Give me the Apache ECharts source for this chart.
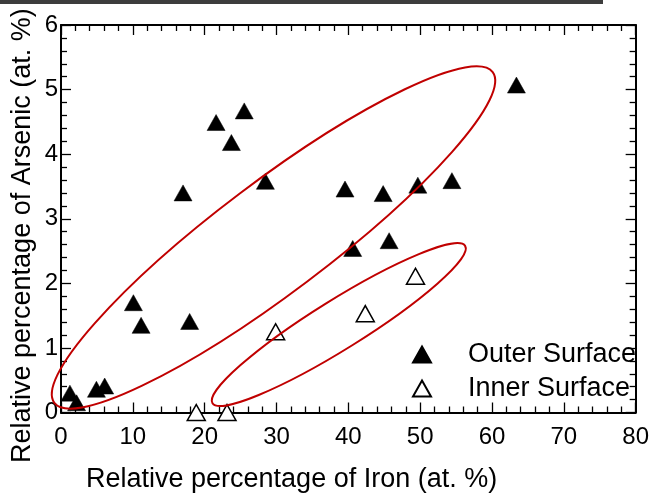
<!DOCTYPE html>
<html>
<head>
<meta charset="utf-8">
<script src="https://cdn.jsdelivr.net/npm/echarts@6/dist/echarts.min.js"></script>
<style>
  html, body { margin: 0; padding: 0; background: #fff; }
  #chart { width: 652px; height: 499px; }
</style>
</head>
<body>
<div id="chart"></div>
<script>
// Outer surface measurements: iron vs arsenic (at. %)
const outerFe = [1.24, 2.17, 4.93, 6.08, 10.08, 11.15, 16.99, 17.91, 21.59, 23.72, 25.51, 28.45, 39.54, 40.61, 44.85, 45.68, 49.68, 54.42, 63.4];
const outerAs = [0.30, 0.15, 0.36, 0.41, 1.70, 1.35, 3.40, 1.41, 4.49, 4.18, 4.67, 3.58, 3.46, 2.54, 3.39, 2.66, 3.52, 3.59, 5.07];

// Inner surface measurements
const innerFe = [18.83, 23.11, 29.88, 42.36, 49.35];
const innerAs = [0.0, 0.0, 1.25, 1.53, 2.11];

// Axis ranges
const xRange = [0, 80];
const yRange = [0, 6];

// Grouping ellipses: ends of the long axis (Fe, As) and short/long axis ratio
const ellipseStartFe = [-0.93, 21.09];
const ellipseStartAs = [0.15, 0.144];
const ellipseEndFe = [60.1, 56.26];
const ellipseEndAs = [5.27, 2.58];
const ellipseRatio = [0.202, 0.166];

const FONT = "'Liberation Sans', Arial, sans-serif";

const outerData = outerFe.map((v, i) => [v, outerAs[i]]);
const innerData = innerFe.map((v, i) => [v, innerAs[i]]);
const ellipseData = ellipseStartFe.map((v, i) => [v, ellipseStartAs[i], ellipseEndFe[i], ellipseEndAs[i], ellipseRatio[i]]);

function axisBase(extra) {
  return Object.assign({
    axisLine: { show: true, onZero: false, lineStyle: { color: '#000', width: 2 } },
    axisTick: { show: true, inside: true, length: 10, lineStyle: { color: '#000', width: 1.3 } },
    minorTick: { show: true, splitNumber: 5, length: 6, lineStyle: { color: '#000', width: 1.3 } },
    splitLine: { show: false },
    minorSplitLine: { show: false }
  }, extra);
}

const chart = echarts.init(document.getElementById('chart'), null, { renderer: 'canvas' });

chart.setOption({
  animation: false,
  backgroundColor: '#fff',
  textStyle: { fontFamily: FONT },
  grid: { left: 61, top: 25, width: 579, height: 387.5, containLabel: false },
  xAxis: [
    axisBase({
      type: 'value', position: 'bottom', min: xRange[0], max: xRange[1], interval: 10,
      axisLabel: { show: true, color: '#000', fontSize: 24, fontFamily: FONT, margin: 13 }
    }),
    axisBase({
      type: 'value', position: 'top', min: xRange[0], max: xRange[1], interval: 10,
      axisLabel: { show: false }
    })
  ],
  yAxis: [
    axisBase({
      type: 'value', position: 'left', min: yRange[0], max: yRange[1], interval: 1,
      axisLabel: { show: true, color: '#000', fontSize: 24, fontFamily: FONT, margin: 3 }
    }),
    axisBase({
      type: 'value', position: 'right', min: yRange[0], max: yRange[1], interval: 1,
      axisLabel: { show: false }
    })
  ],
  legend: {
    orient: 'vertical',
    left: 407,
    top: 336,
    itemWidth: 18,
    itemHeight: 16,
    itemGap: 7,
    selectedMode: false,
    data: ['Outer Surface', 'Inner Surface'],
    textStyle: { color: '#000', fontSize: 27, fontFamily: FONT, padding: [0, 0, 0, 32] }
  },
  graphic: [
    { type: 'rect', left: 0, top: 0, shape: { width: 603, height: 4 }, style: { fill: '#3d3d3d' }, z: 100 },
    {
      type: 'text', left: 86, top: 466,
      style: { text: 'Relative percentage of Iron (at. %)', font: '27px ' + FONT, fill: '#000' }
    },
    {
      type: 'text', x: 9, y: 463, rotation: Math.PI / 2,
      style: { text: 'Relative percentage of Arsenic (at. %)', font: '27px ' + FONT, fill: '#000', textAlign: 'left', textVerticalAlign: 'top' },
      originX: 0, originY: 0
    }
  ],
  series: [
    {
      name: 'Outer Surface',
      type: 'scatter',
      data: outerData,
      symbol: 'triangle',
      symbolSize: [18, 16],
      itemStyle: { color: '#000', borderColor: '#000', borderWidth: 0.5, opacity: 1 },
      z: 3
    },
    {
      name: 'Inner Surface',
      type: 'scatter',
      data: innerData,
      symbol: 'triangle',
      symbolSize: [18, 16],
      itemStyle: { color: '#fff', borderColor: '#000', borderWidth: 1.5, opacity: 1 },
      z: 3
    },
    {
      type: 'custom',
      name: 'groups',
      data: ellipseData,
      encode: { x: [0, 2], y: [1, 3] },
      clip: false,
      z: 5,
      silent: true,
      renderItem: function (params, api) {
        const p1 = api.coord([api.value(0), api.value(1)]);
        const p2 = api.coord([api.value(2), api.value(3)]);
        const dx = p2[0] - p1[0], dy = p2[1] - p1[1];
        const rx = Math.hypot(dx, dy) / 2;
        const ry = rx * api.value(4);
        const phi = Math.atan2(dy, dx) * 180 / Math.PI;
        const d = 'M' + p1[0] + ' ' + p1[1] +
          ' A' + rx + ' ' + ry + ' ' + phi + ' 1 1 ' + p2[0] + ' ' + p2[1] +
          ' A' + rx + ' ' + ry + ' ' + phi + ' 1 1 ' + p1[0] + ' ' + p1[1] + ' Z';
        return {
          type: 'path',
          shape: { pathData: d },
          style: { fill: 'none', stroke: '#c00000', lineWidth: 2 }
        };
      }
    }
  ]
});
</script>
</body>
</html>
